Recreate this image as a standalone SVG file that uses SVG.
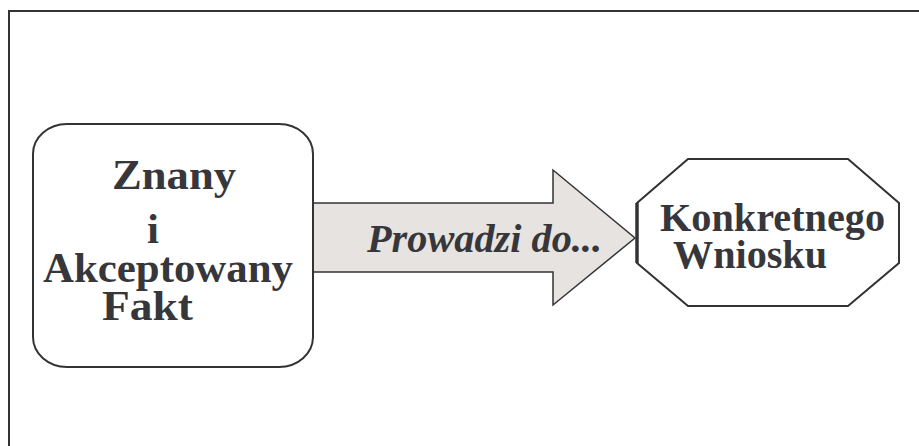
<svg xmlns="http://www.w3.org/2000/svg" width="919" height="446" viewBox="0 0 919 446">
<style>
.ln{fill:none;stroke:#333336;stroke-width:2}
.node{fill:#ffffff;stroke:#333336;stroke-width:2}
.t{font-family:"Liberation Serif","Times New Roman",serif;font-weight:bold;fill:#37373b}
.ti{font-style:italic}
</style>
<rect width="919" height="446" fill="#ffffff"/>
<g id="frame">
<polyline class="ln" points="9,446 9,11 919,11"/>
</g>
<g id="connectors">
<polygon points="313,203 553,203 553,170 635,238 553,305 553,272 313,272" fill="#e6e3e0" stroke="#333336" stroke-width="1.5"/>
<text class="t ti" x="367" y="252" font-size="40" textLength="235" lengthAdjust="spacingAndGlyphs">Prowadzi do...</text>
</g>
<g id="fakt">
<rect class="node" x="33" y="124" width="280" height="243" rx="34" ry="30"/>
<text class="t" font-size="43" x="112" y="189" textLength="124" lengthAdjust="spacingAndGlyphs">Znany</text>
<text class="t" font-size="43" x="147" y="243">i</text>
<text class="t" font-size="43" x="43" y="282" textLength="250" lengthAdjust="spacingAndGlyphs">Akceptowany</text>
<text class="t" font-size="43" x="102" y="320" textLength="91" lengthAdjust="spacingAndGlyphs">Fakt</text>
</g>
<g id="wniosek">
<polygon class="node" points="688,159 848,159 899,203 899,263 848,306 688,306 637,263 637,203"/>
<line x1="637" y1="203" x2="637" y2="263" stroke="#333336" stroke-width="3.5"/>
<text class="t" font-size="40" x="660" y="231" textLength="225" lengthAdjust="spacingAndGlyphs">Konkretnego</text>
<text class="t" font-size="40" x="673" y="268" textLength="154" lengthAdjust="spacingAndGlyphs">Wniosku</text>
</g>
</svg>
